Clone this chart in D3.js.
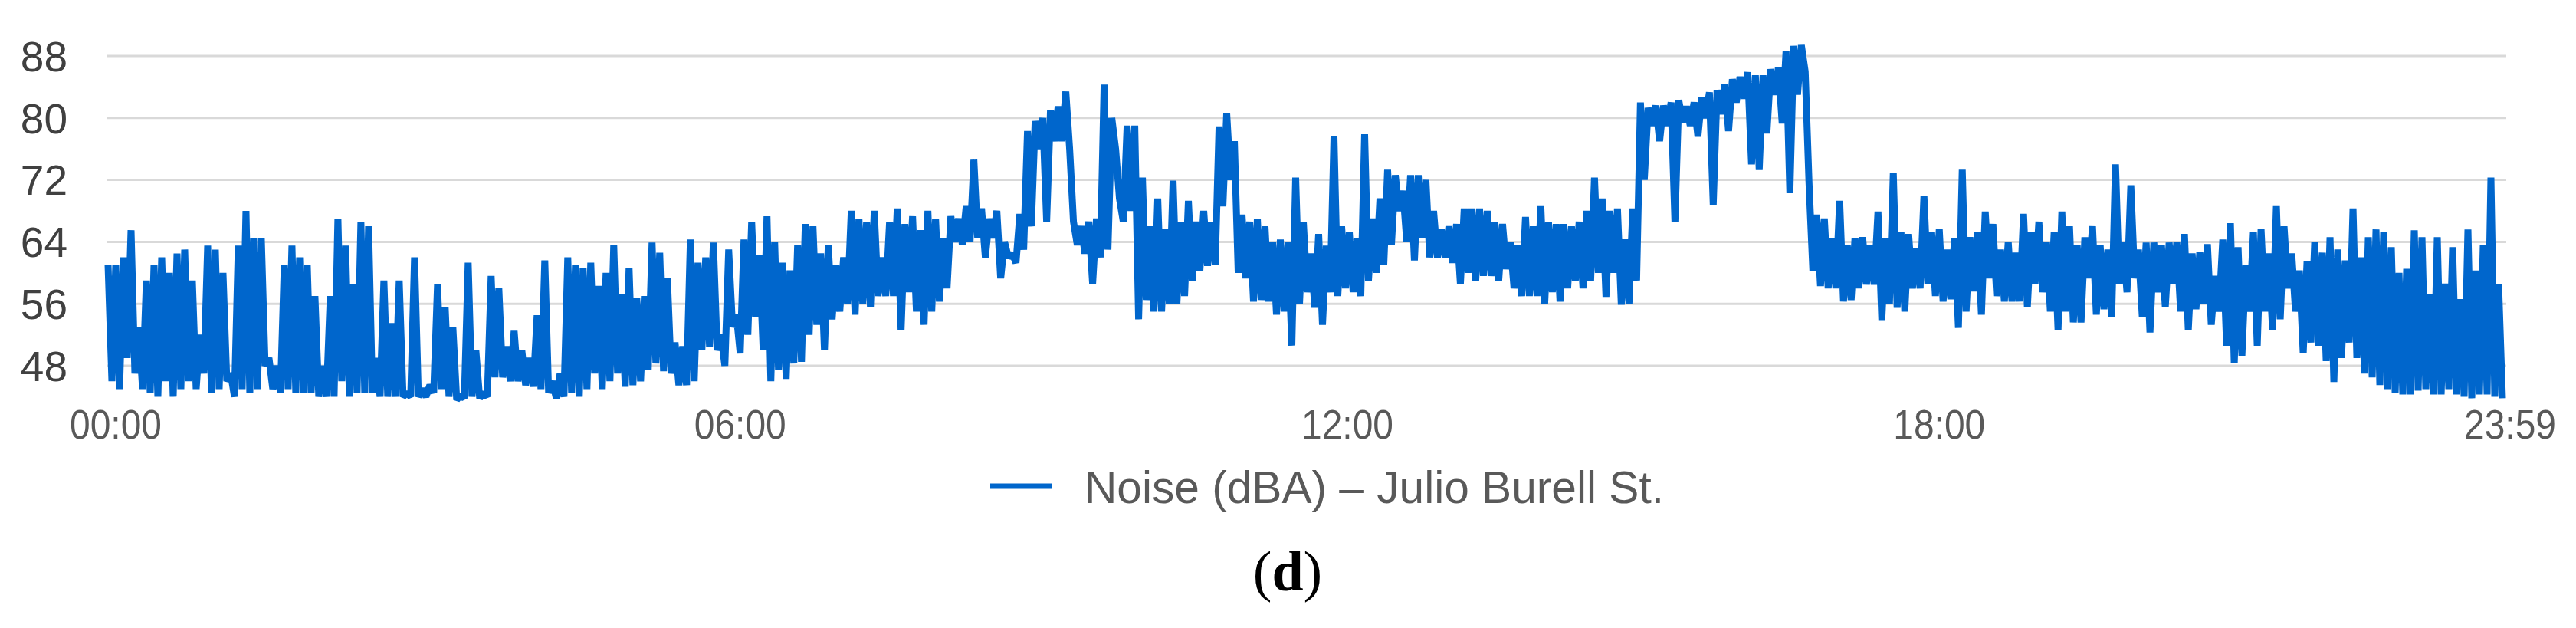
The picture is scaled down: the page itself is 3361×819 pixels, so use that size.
<!DOCTYPE html>
<html>
<head>
<meta charset="utf-8">
<script src="https://cdnjs.cloudflare.com/ajax/libs/d3/7.8.5/d3.min.js"></script>
<style>
  body { margin: 0; background: #ffffff; }
  svg { display: block; }
</style>
</head>
<body>
<svg id="chart" width="3361" height="819"></svg>
<script>
// Noise readings (dBA) in chunks, left to right
var night1 = [61,46, 61,45, 62,49, 65.5,47, 53,45, 59,44.5, 61,44, 62,46, 60,44, 62.5,45, 63,46, 59,45, 52,47, 63.5,44.5, 63,45, 60,46, 47,44, 63.5,45, 68,44.5, 64.5,45, 64.5,48, 49,45, 48,44.5, 61,45, 63.5,44.5, 62,44.5, 61,44.5, 57,44, 48,44, 57,44, 67,46, 63.5,44, 58.5,44.5, 66.5,44.5, 66,44.5, 49,44, 59,44, 53.5,44, 59,44, 44.5,44, 62,44, 45,44, 45.5,44.5, 58.5,45];
var night2 = [55.5,44, 53,43.6, 44.2,43.8, 61.3,44, 50,43.8, 44.5,44, 59.6,46.5, 58,46.5, 50.5,46, 52.5,46, 50,45.5, 49,45.3, 54.5,45, 61.6,44.5, 46,43.8, 47,44, 62,44.5, 61,44, 60.6,45, 61.3,47, 58.3,45, 60,46, 63.6,47, 57.3,45.3, 60.6,45.5, 56.8,46, 57,47.5, 63.9,48.3, 62.6,47.3, 59.3,47, 51,45.5, 50.5,45.5, 64.3,46, 61.3,50, 62,50.5, 63.9,50, 52,48, 63,53, 54.6,49.6, 64.3,52, 66.6,54.3, 62.3,50, 67.3,46, 64,47.5, 61.3,46.3];
var morning = [60.3,48.3, 63.6,48.5, 66.3,52, 66,53.3, 62.5,50, 63.6,54, 61,55, 62,56, 68,54.6, 67,56, 66.6,55.6, 68,57, 62,57, 66.6,57, 68.3,52.6, 66.3,57.5, 67.3,55, 65.5,53.3, 68,55, 67,56.3, 64.5,58, 67.3,64, 67,63.6, 68.6,64, 74.6,64.5, 68.3,62, 67,64.5, 68,59.3, 64,62, 62.5,61.3, 67.6,63, 78.3,66, 79.6,76, 80,66.6, 81,77, 81.5,77, 83.4,76, 66.6,63.6, 66,62.5, 66.6,58.6, 67,62, 84.3,63, 80,76, 69.6,66.6, 79,68];
var midday = [79,54, 72.3,56.5, 66,55, 69.6,55, 65.6,56, 71.9,56, 66.5,57, 69.3,59, 66.6,60.3, 68,60.9, 66.5,61, 78.9,68.6, 80.6,72, 77,60, 67.5,59.3, 66.6,56.3, 67,56.5, 66,56.3, 64,54.6, 64.3,55, 64,50.6, 72.3,56, 66.6,57.5, 62.5,55.5, 65,53.3, 63.5,57.5, 77.6,57, 66,58, 65.3,57.5, 64.5,57, 77.9,59, 67,60, 69.6,61, 73.3,63.6, 72.6,68, 70.6,64, 72.6,61.6, 72.6,64.5, 72,62, 68,62, 65.6,62, 66,61.3, 66.3,58.6, 68.3,60, 68.3,59];
var afternoon = [68.3,59.6, 68,59.6, 66.5,59, 66.3,60.5, 64,58, 63.5,57, 67.2,57, 66,57, 68.6,56, 66.6,57.5, 66.3,56.3, 66.3,58, 66,59, 66.6,58, 68,59, 72.3,60, 69.6,56.9, 68,60, 68.3,55.9, 64.3,56, 68.3,59, 82,72, 81.3,79, 81.6,77, 81.6,79, 82,66.6, 82.3,79.5, 81.5,79, 82,77.6, 82.6,80, 83.3,68.8, 83.6,80.5, 84.3,78.3, 85,82, 85.3,82.5, 85.9,74, 85.5,73.3, 85.5,78, 86.3,83, 86.5,79.3, 88.6,70.3, 89.3,83, 89.4,86, 71.6,60.3, 67.5,58.3];
var evening = [67,58, 64.5,58, 69.3,56.3, 63.6,56.5, 64.5,58, 64.6,58.5, 63.6,58.5, 67.9,53.9, 64.5,56, 72.9,55.5, 65.3,55, 65,58, 63.2,58, 69.9,58.6, 65.3,57, 65.6,56.3, 63,56.6, 64.5,52.9, 73.3,55, 64.6,57.6, 65.3,54.6, 67.9,59.3, 66.3,57, 63,56.3, 64,56.3, 62.6,56.3, 67.6,55.6, 65.3,58.6, 66.6,57.5, 64,55, 65.3,52.6, 67.9,55, 66,53.6, 63.6,53.6, 64.6,59.3, 66,54.6, 63.6,55.3, 63,54.3, 74,58.6, 63.9,57.5, 71.3,59.3, 63,54.3, 63.9,52.3, 63.9,57.5, 63.6,55.6];
var lateNight = [63.9,58.6, 64,55, 65,52.6, 62.5,55.3, 62.7,56, 63.7,53.3, 59.6,55, 64.3,50.6, 66.4,48.3, 63.3,49.3, 61,55, 65.3,50.6, 65.6,55, 62.5,52.6, 68.6,54, 66,58, 62.5,55, 60.3,49.6, 61.5,51, 64,50.6, 62.6,48.6, 64.6,45.9, 63,49, 61.6,51, 68.3,49, 62,47, 64.6,46.5, 65.6,45.5, 65.3,45, 63.3,44.5, 60,44.3, 60.5,44.3, 65.5,44.8, 64.6,45, 57.3,44.3, 64.6,44.3, 58.6,45, 63.3,44.3, 56.6,44, 65.6,43.8, 60.3,44.3, 63.6,44.3, 72.3,44, 58.5,43.8];

var yTicks = [48, 56, 64, 72, 80, 88];
var timeLabels = ["00:00", "06:00", "12:00", "18:00", "23:59"];
// sample index under each time label (sampling is not even over the day)
var timeLabelIndex = [2, 165, 323.5, 478, 627];
var seriesName = "Noise (dBA) \u2013 Julio Burell St.";

var noise = night1.concat(night2, morning, midday, afternoon, evening, lateNight);

var svg = d3.select("#chart");

var x = d3.scaleLinear()
  .domain([0, noise.length - 1])
  .range([141, 3265]);

var y = d3.scaleLinear()
  .domain([48, 88])
  .range([477, 73]);

// horizontal gridlines
svg.append("g")
  .attr("class", "grid")
  .selectAll("line")
  .data(yTicks)
  .enter()
  .append("line")
  .attr("x1", 140)
  .attr("x2", 3270)
  .attr("y1", function(d) { return y(d); })
  .attr("y2", function(d) { return y(d); })
  .attr("stroke", "#d9d9d9")
  .attr("stroke-width", 3);

// y labels
svg.append("g")
  .attr("class", "y-labels")
  .selectAll("text")
  .data(yTicks)
  .enter()
  .append("text")
  .attr("x", 88)
  .attr("y", function(d) { return y(d); })
  .attr("dy", "0.36em")
  .attr("text-anchor", "end")
  .attr("font-family", "'Liberation Sans', Arial, sans-serif")
  .attr("font-size", 55)
  .attr("fill", "#404040")
  .text(function(d) { return d; });

// x labels, squeezed to the narrow face of the original
svg.append("g")
  .attr("class", "x-labels")
  .selectAll("text")
  .data(timeLabels)
  .enter()
  .append("text")
  .attr("x", function(d, i) { return x(timeLabelIndex[i]) - 60; })
  .attr("y", 572)
  .attr("textLength", 120)
  .attr("lengthAdjust", "spacingAndGlyphs")
  .attr("font-family", "'Liberation Sans', Arial, sans-serif")
  .attr("font-size", 53)
  .attr("fill", "#595959")
  .text(function(d) { return d; });

var line = d3.line()
  .x(function(d, i) { return x(i); })
  .y(function(d) { return y(d); });

svg.append("path")
  .datum(noise)
  .attr("d", line)
  .attr("fill", "none")
  .attr("stroke", "#0066cc")
  .attr("stroke-width", 9)
  .attr("stroke-linejoin", "bevel");

// legend
var legend = svg.append("g").attr("class", "legend");
legend.append("line")
  .attr("x1", 1292)
  .attr("x2", 1372)
  .attr("y1", 634)
  .attr("y2", 634)
  .attr("stroke", "#0066cc")
  .attr("stroke-width", 7);
legend.append("text")
  .attr("x", 1415)
  .attr("y", 656)
  .attr("textLength", 756)
  .attr("lengthAdjust", "spacingAndGlyphs")
  .attr("font-family", "'Liberation Sans', Arial, sans-serif")
  .attr("font-size", 60)
  .attr("fill", "#595959")
  .text(seriesName);

// panel caption "(d)"
var caption = svg.append("text")
  .attr("x", 1680)
  .attr("y", 770)
  .attr("text-anchor", "middle")
  .attr("font-family", "'Liberation Serif', 'Times New Roman', serif")
  .attr("font-size", 74)
  .attr("fill", "#000000");
caption.append("tspan").text("(");
caption.append("tspan").attr("font-weight", "bold").text("d");
caption.append("tspan").text(")");
</script>
</body>
</html>
